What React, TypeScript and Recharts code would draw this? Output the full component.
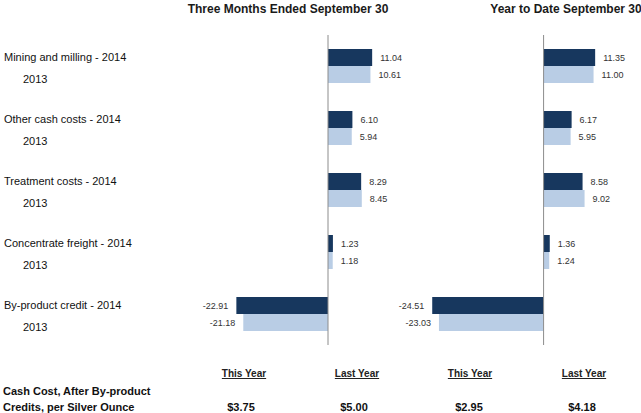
import { BarChart, Bar, XAxis, YAxis, ReferenceLine, LabelList } from 'recharts';

const categories = ['Mining and milling', 'Other cash costs', 'Treatment costs', 'Concentrate freight', 'By-product credit'];
const qtr2014 = [11.04, 6.1, 8.29, 1.23, -22.91];
const qtr2013 = [10.61, 5.94, 8.45, 1.18, -21.18];
const ytd2014 = [11.35, 6.17, 8.58, 1.36, -24.51];
const ytd2013 = [11.0, 5.95, 9.02, 1.24, -23.03];

const panelTitles = ['Three Months Ended September 30', 'Year to Date September 30'];
const summaryHeads = ['This Year', 'Last Year', 'This Year', 'Last Year'];
const summaryValues = ['$3.75', '$5.00', '$2.95', '$4.18'];
const summaryLabel = ['Cash Cost, After By-product', 'Credits, per Silver Ounce'];

const DARK = '#17375e';
const LIGHT = '#b9cde5';
const AXIS = '#8c8c8c';
const FONT = "'Liberation Sans', Arial, sans-serif";

const qtrData = categories.map((name, i) => ({ name, y2014: qtr2014[i], y2013: qtr2013[i] }));
const ytdData = categories.map((name, i) => ({ name, y2014: ytd2014[i], y2013: ytd2013[i] }));

const ValueLabel = (props: any) => {
  const { x, y, width, height, value } = props;
  const x0 = Number(x);
  const w = Number(width);
  const left = Math.min(x0, x0 + w);
  const right = Math.max(x0, x0 + w);
  const neg = Number(value) < 0;
  return (
    <text
      x={neg ? left - 8 : right + 8}
      y={Number(y) + Number(height) / 2}
      dy="0.35em"
      textAnchor={neg ? 'end' : 'start'}
      fontSize={9}
      fontFamily={FONT}
      fill="#333"
    >
      {Number(value).toFixed(2)}
    </text>
  );
};

const CategoryTick = (props: any) => {
  const { y, payload } = props;
  return (
    <g fontFamily={FONT} fontSize={11} fill="#111">
      <text x={4} y={y - 5}>{`${payload.value} - 2014`}</text>
      <text x={23} y={y + 16.5}>2013</text>
    </g>
  );
};

const margin = { top: 35, right: 0, bottom: 68, left: 0 };

const App = () => {
  return (
    <div style={{ position: 'absolute', left: 0, top: 0, width: 641, height: 413, background: '#fff', overflow: 'hidden' }}>
      <div style={{ position: 'absolute', left: 0, top: 0 }}>
        <BarChart width={448} height={413} data={qtrData} layout="vertical" margin={margin} barGap={0} barSize={17}>
          <XAxis type="number" domain={[-30, 30]} allowDataOverflow tick={false} tickLine={false} height={0} axisLine={{ stroke: AXIS }} />
          <YAxis type="category" dataKey="name" width={208} axisLine={false} tickLine={false} interval={0} tick={<CategoryTick />} />
          <ReferenceLine x={0} stroke={AXIS} />
          <Bar dataKey="y2014" fill={DARK} isAnimationActive={false}>
            <LabelList dataKey="y2014" content={ValueLabel} />
          </Bar>
          <Bar dataKey="y2013" fill={LIGHT} isAnimationActive={false}>
            <LabelList dataKey="y2013" content={ValueLabel} />
          </Bar>
        </BarChart>
      </div>
      <div style={{ position: 'absolute', left: 380, top: 0 }}>
        <BarChart width={259} height={413} data={ytdData} layout="vertical" margin={{ ...margin, left: 50 }} barGap={0} barSize={17}>
          <XAxis type="number" domain={[-25, 21]} allowDataOverflow tick={false} tickLine={false} height={0} axisLine={{ stroke: AXIS }} />
          <YAxis type="category" dataKey="name" hide />
          <ReferenceLine x={0} stroke={AXIS} />
          <Bar dataKey="y2014" fill={DARK} isAnimationActive={false}>
            <LabelList dataKey="y2014" content={ValueLabel} />
          </Bar>
          <Bar dataKey="y2013" fill={LIGHT} isAnimationActive={false}>
            <LabelList dataKey="y2013" content={ValueLabel} />
          </Bar>
        </BarChart>
      </div>
      <svg width={641} height={413} style={{ position: 'absolute', left: 0, top: 0, pointerEvents: 'none' }} fontFamily={FONT}>
        <text x={288} y={13} textAnchor="middle" fontSize={12} fontWeight="bold" fill="#1a1a1a">{panelTitles[0]}</text>
        <text x={566} y={13} textAnchor="middle" fontSize={12} fontWeight="bold" fill="#1a1a1a">{panelTitles[1]}</text>
        {summaryHeads.map((h, i) => (
          <text key={`h${i}`} x={[244, 357, 470, 584][i]} y={377} textAnchor="middle" fontSize={10} fontWeight="bold" fill="#222" style={{ textDecoration: 'underline' }}>{h}</text>
        ))}
        <text x={3} y={395} fontSize={11} fontWeight="bold" fill="#111">{summaryLabel[0]}</text>
        <text x={3} y={411} fontSize={11} fontWeight="bold" fill="#111">{summaryLabel[1]}</text>
        {summaryValues.map((v, i) => (
          <text key={`v${i}`} x={[241, 354, 469, 582][i]} y={411} textAnchor="middle" fontSize={11} fontWeight="bold" fill="#111">{v}</text>
        ))}
      </svg>
    </div>
  );
};

export default App;
